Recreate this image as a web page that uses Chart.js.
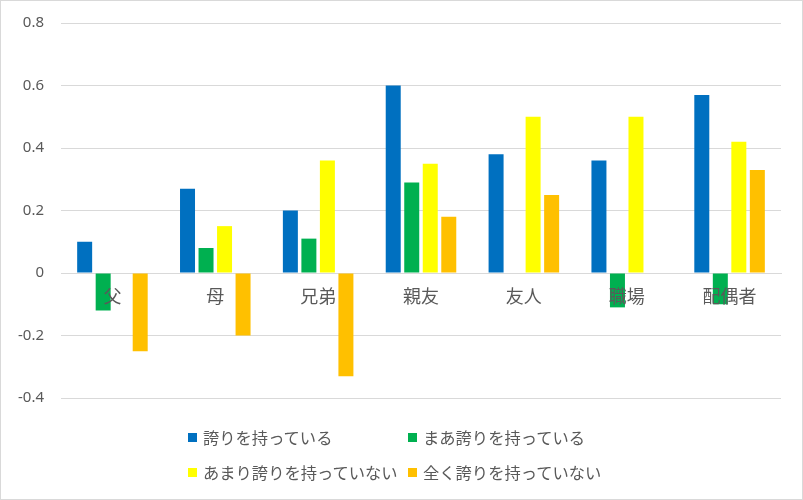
<!DOCTYPE html>
<html><head><meta charset="utf-8">
<script src="https://cdn.jsdelivr.net/npm/chart.js@4"></script>
<style>
html,body{margin:0;padding:0;background:#fff;}
#wrap{position:relative;width:803px;height:500px;overflow:hidden;}
#c{position:absolute;left:0;top:0;}
#legend{position:absolute;left:188px;top:425px;display:grid;grid-template-columns:220px 220px;grid-auto-rows:24px;row-gap:11px;}
.item{display:flex;align-items:center;font:16.3px "Noto Sans CJK JP";color:#595959;white-space:nowrap;}
.box{width:9px;height:9px;margin-right:6px;flex:none;}
</style></head>
<body>
<div id="wrap"><canvas id="c" width="803" height="500"></canvas><div id="legend"></div></div>
<script>
const categories = ["父", "母", "兄弟", "親友", "友人", "職場", "配偶者"];
const seriesNames = ["誇りを持っている", "まあ誇りを持っている", "あまり誇りを持っていない", "全く誇りを持っていない"];
const proud      = [0.10, 0.27, 0.20, 0.60, 0.38, 0.36, 0.57];
const fairly     = [-0.12, 0.08, 0.11, 0.29, null, -0.11, -0.10];
const notMuch    = [null, 0.15, 0.36, 0.35, 0.50, 0.50, 0.42];
const notAtAll   = [-0.25, -0.20, -0.33, 0.18, 0.25, null, 0.33];
const yTicks = [-0.4, -0.2, 0, 0.2, 0.4, 0.6, 0.8];
const colors = ["#0070C0", "#00B050", "#FFFF00", "#FFC000"];
const seriesValues = [proud, fairly, notMuch, notAtAll];

const borderPlugin = {
  id: 'outerBorder',
  afterDraw(chart) {
    const ctx = chart.ctx;
    ctx.save();
    ctx.strokeStyle = '#d9d9d9';
    ctx.lineWidth = 1;
    ctx.strokeRect(0.5, 0.5, chart.width - 1, chart.height - 1);
    ctx.restore();
  }
};

function zeroPad(scale) {
  scale.paddingTop = 0;
  scale.paddingBottom = 0;
  scale.paddingLeft = 0;
  scale.paddingRight = 0;
}

const chart = new Chart(document.getElementById('c'), {
  type: 'bar',
  data: {
    labels: categories,
    datasets: seriesNames.map((n, i) => ({
      label: n,
      data: seriesValues[i],
      backgroundColor: colors[i],
      borderWidth: 0,
      categoryPercentage: 0.72,
      barPercentage: 0.81
    }))
  },
  plugins: [borderPlugin],
  options: {
    responsive: false,
    animation: false,
    devicePixelRatio: 1,
    layout: { padding: { left: 0, right: 22, top: 23, bottom: 102 } },
    plugins: { legend: { display: false }, tooltip: { enabled: false } },
    scales: {
      x: {
        position: { y: 0 },
        afterFit: zeroPad,
        grid: { display: false, drawTicks: false },
        border: { display: true, color: '#d9d9d9', width: 1 },
        ticks: { z: 1, color: '#595959', font: { family: '"Noto Sans CJK JP"', size: 18 }, padding: 12 }
      },
      y: {
        min: yTicks[0],
        max: yTicks[yTicks.length - 1],
        afterFit(scale) { scale.width = 61; zeroPad(scale); },
        afterBuildTicks(scale) { scale.ticks = yTicks.map(v => ({ value: v })); },
        grid: { color: '#d9d9d9', drawTicks: false },
        border: { display: false },
        ticks: {
          color: '#595959',
          font: { family: '"Noto Sans"', size: 15 },
          padding: 17,
          callback: v => String(Math.round(v * 10) / 10)
        }
      }
    }
  }
});

const legend = document.getElementById('legend');
chart.data.datasets.forEach(ds => {
  const it = document.createElement('div');
  it.className = 'item';
  const b = document.createElement('span');
  b.className = 'box';
  b.style.background = ds.backgroundColor;
  it.appendChild(b);
  it.appendChild(document.createTextNode(ds.label));
  legend.appendChild(it);
});
</script>
</body></html>
